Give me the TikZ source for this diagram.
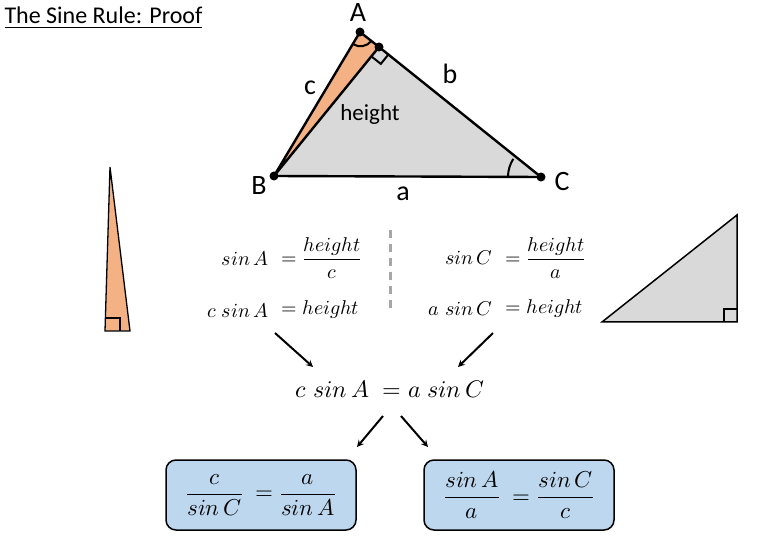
\documentclass[tikz,border=0pt]{standalone}
\usepackage{fontspec}
\setmainfont{Carlito}
\usepackage{unicode-math}
\setmathfont{Latin Modern Math}
\usetikzlibrary{calc}
\definecolor{org}{HTML}{F4B183}
\definecolor{gry}{HTML}{D9D9D9}
\definecolor{bx}{HTML}{BDD7EE}
\begin{document}
\begin{tikzpicture}[x=1pt,y=-1pt,
  dot/.style={circle,fill=black,inner sep=0pt,minimum size=9pt},
  lbl/.style={font=\fontsize{28}{32}\selectfont},
  eq/.style={font=\fontsize{20}{24}\selectfont},
  res/.style={draw=black,line width=1.5pt,rounded corners=10pt,fill=bx,minimum width=190pt,minimum height=70pt,font=\fontsize{23}{27}\selectfont},
  arr/.style={-stealth,line width=2pt}]
\useasboundingbox (0,0) rectangle (780,540);
\node[anchor=west,font=\fontsize{24}{28}\selectfont] (title) at (1,18) {\underline{The Sine Rule: Proof}};
\coordinate (A) at (360,32); \coordinate (D) at (379,47);
\coordinate (B) at (274,176); \coordinate (C) at (541,177);
\fill[gry] (B)--(D)--(C)--cycle;
\fill[org] (B)--(A)--(D)--cycle;
\draw[line width=2pt] (388.4,54.5)--(380.8,63.9)--(371.4,56.4);
\draw[line width=2pt] ($(A)!14pt!(B)$) arc[start angle=237,end angle=322,radius=14pt];
\draw[line width=2pt] ($(C)!33pt!(B)$) arc[start angle=180,end angle=147,radius=33pt];
\draw[line width=2.4pt,line join=round] (B)--(A)--(D)--(C)--cycle (B)--(D);
\node[dot] (nA) at (A) {}; \node[dot] (nD) at (D) {}; \node[dot] (nB) at (B) {}; \node[dot] (nC) at (C) {};
\node[lbl] (la) at (358,13) {A}; \node[lbl] (lb) at (450,74) {b}; \node[lbl] (lc) at (310,88) {c};
\node[lbl] (lB) at (259,186) {B}; \node[lbl] (lC) at (562,182) {C}; \node[lbl] (lA2) at (403,194) {a};
\node[font=\fontsize{23}{27}\selectfont] (h) at (370,114) {height};
% small triangles
\fill[org] (110,167)--(105,331)--(130,331)--cycle;
\draw[line width=1.3pt] (110,167)--(105,331)--(130,331)--cycle;
\draw[line width=1.5pt] (105,318)--(120,318)--(120,331);
\fill[gry] (602,322)--(737,215)--(737,322)--cycle;
\draw[line width=1.5pt] (602,322)--(737,215)--(737,322)--cycle;
\draw[line width=1.5pt] (724,322)--(724,309)--(737,309);
\draw[gray!70,line width=3pt,dash pattern=on 8pt off 6pt] (390,230)--(390,312);
\node[eq,anchor=east] (e1) at (272,258) {$sin\,A$};
\node[eq,anchor=west] (e1r) at (278,258) {$=\dfrac{height}{c}$};
\node[eq,anchor=east] (e2) at (272,310) {$c\;sin\,A$};
\node[eq,anchor=west] (e2r) at (278,310) {$=height$};
\node[eq,anchor=east] (e3) at (496,258) {$sin\,C$};
\node[eq,anchor=west] (e3r) at (502,258) {$=\dfrac{height}{a}$};
\node[eq,anchor=east] (e4) at (496,309) {$a\;sin\,C$};
\node[eq,anchor=west] (e4r) at (502,309) {$=height$};
\node[font=\fontsize{24}{28}\selectfont] (mid) at (390,389) {$c\;sin\,A\;=a\;sin\,C$};
\coordinate (p1) at (275,333); \coordinate (q1) at (313,367);
\coordinate (p2) at (493,333); \coordinate (q2) at (458,367);
\coordinate (p3) at (383,416); \coordinate (q3) at (357,447);
\coordinate (p4) at (401,416); \coordinate (q4) at (428,447);
\draw[arr] (p1)--(q1); \draw[arr] (p2)--(q2); \draw[arr] (p3)--(q3); \draw[arr] (p4)--(q4);
\node[res] (r1) at (261,495) {$\dfrac{c}{sin\,C}\;=\dfrac{a}{sin\,A}$};
\node[res] (r2) at (519,495) {$\dfrac{sin\,A}{a}\;=\dfrac{sin\,C}{c}$};
\end{tikzpicture}
\end{document}
